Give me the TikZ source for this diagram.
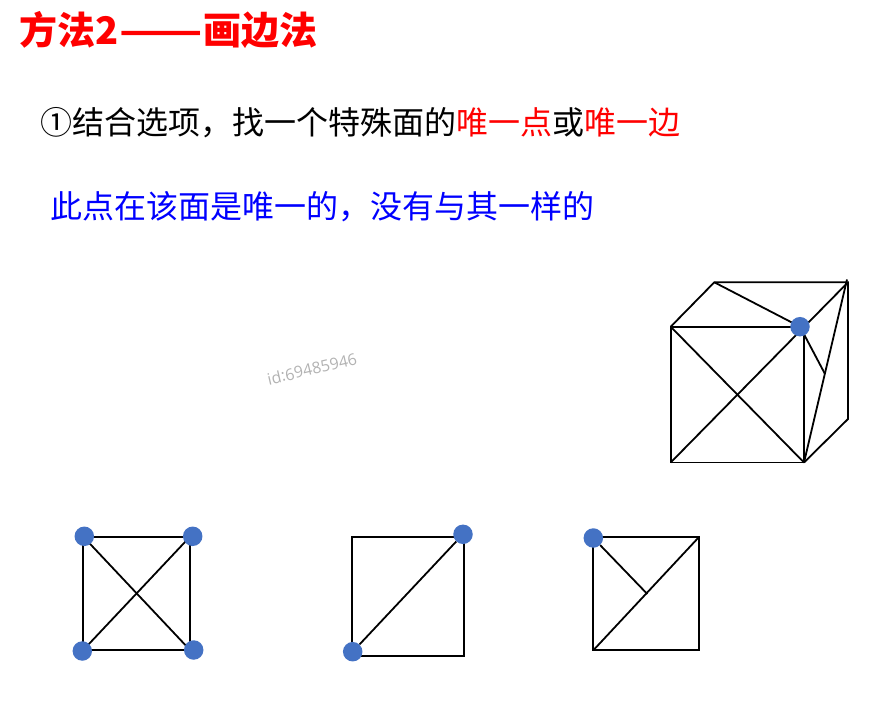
\documentclass[tikz,border=0pt]{standalone}
\usepackage{fontspec}
\usepackage{xcolor}
\setmainfont{Noto Sans CJK SC}
\newfontfamily\idfont{Open Sans}
\definecolor{dotblue}{HTML}{4472C4}
\newcommand{\widecomma}{\symbol{"FF0C}}
\tikzset{
    edgeline/.style={draw=black, line width=1.8pt},
    bluedot/.style={circle, fill=dotblue, minimum size=19.5pt, inner sep=0pt},
    headline/.style={anchor=west, inner sep=0pt, font=\fontsize{32}{38}\selectfont}
}

\begin{document}
\begin{tikzpicture}[x=1pt, y=-1pt]
\useasboundingbox (0,0) rectangle (881,703);
% texts
\node (title) [headline, text=red, font=\fontsize{38}{46}\selectfont\bfseries] at (19,30) {方法2\kern1pt\scalebox{1.28}[1]{——}\kern1pt画边法};
\node (hint) [headline] at (40.5,123) {①结合选项\widecomma 找一个特殊面的\textcolor{red}{唯一点}或\textcolor{red}{唯一边}};
\node (note) [headline, text=blue] at (50,207) {此点在该面是唯一的\widecomma 没有与其一样的};
\node (mark) [rotate=13, text=black!30, inner sep=0pt, font=\idfont\fontsize{16}{18}\selectfont] at (312,369) {id:69485946};
% cube
\coordinate (fl) at (670.7,326.7);
\coordinate (fr) at (804,326.7);
\coordinate (bl) at (670.7,462.5);
\coordinate (br) at (804,462.5);
\coordinate (tl) at (714.3,282.3);
\coordinate (tr) at (848,282.3);
\coordinate (lr) at (848,419);
\coordinate (tip) at (847,279.5);
\coordinate (kink) at (825,374);
\draw [edgeline] (fl) -- (fr) -- (br) -- (bl) -- cycle;
\draw [edgeline] (fl) -- (tl) -- (tr) -- (lr) -- (br);
\draw [edgeline] (fl) -- (br);
\draw [edgeline] (bl) -- (tr);
\draw [edgeline] (tl) -- (800,326.7);
\draw [edgeline] (br) -- (tip);
\draw [edgeline] (800,326.7) -- (kink);
\node (cubedot) [bluedot] at (800,326.7) {};
% first square
\coordinate (a1) at (83.3,536.7);
\coordinate (a2) at (190,536.7);
\coordinate (a3) at (190,650);
\coordinate (a4) at (83.3,650);
\draw [edgeline] (a1) -- (a2) -- (a3) -- (a4) -- cycle;
\draw [edgeline] (a1) -- (a3);
\draw [edgeline] (a2) -- (a4);
\node (dota) [bluedot] at (84.3,536.3) {};
\node (dotb) [bluedot] at (192.7,536.3) {};
\node (dotc) [bluedot] at (82.3,651) {};
\node (dotd) [bluedot] at (193.7,650) {};
% second square
\coordinate (b1) at (352,537);
\coordinate (b2) at (464,537);
\coordinate (b3) at (464,656);
\coordinate (b4) at (352,656);
\draw [edgeline] (b1) -- (b2) -- (b3) -- (b4) -- cycle;
\node (dote) [bluedot] at (463,534.3) {};
\node (dotf) [bluedot] at (352.7,651.7) {};
\draw [edgeline] (dote) -- (dotf);
% third square
\coordinate (c1) at (593.3,536.7);
\coordinate (c2) at (699.3,536.7);
\coordinate (c3) at (699.3,650.3);
\coordinate (c4) at (593.3,650.3);
\coordinate (c5) at (647.3,594);
\draw [edgeline] (c1) -- (c2) -- (c3) -- (c4) -- cycle;
\draw [edgeline] (c2) -- (c4);
\node (dotg) [bluedot] at (593.3,538) {};
\draw [edgeline] (dotg) -- (c5);
\end{tikzpicture}
\end{document}
